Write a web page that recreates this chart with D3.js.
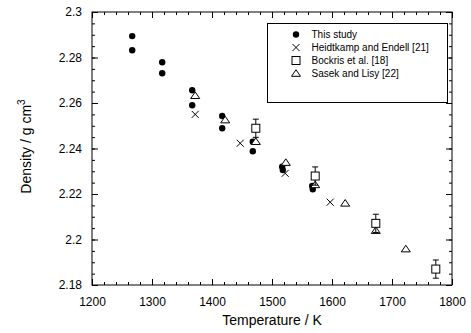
<!DOCTYPE html>
<html>
<head>
<meta charset="utf-8">
<script src="https://cdn.jsdelivr.net/npm/d3@7"></script>
<style>
  body { margin: 0; background: #fff; }
  svg { font-family: "Liberation Sans", Arial, sans-serif; }
</style>
</head>
<body>
<div id="chart"></div>
<script>
// values
const thisStudyT = [1267, 1267, 1317, 1317, 1367, 1367, 1417, 1417, 1468, 1468, 1517, 1518, 1567, 1568];
const thisStudyD = [2.2894, 2.2832, 2.2779, 2.2731, 2.2656, 2.2590, 2.2543, 2.2489, 2.2430, 2.2388, 2.2320, 2.2305, 2.2235, 2.2221];

const heidtkampT = [1372, 1447, 1522, 1597];
const heidtkampD = [2.2550, 2.2423, 2.2291, 2.2164];

const bockrisT = [1473, 1572, 1673, 1773];
const bockrisD = [2.2489, 2.2279, 2.2071, 2.1870];
const bockrisErr = [0.004, 0.004, 0.004, 0.004];

const sasekT = [1372, 1422, 1473, 1523, 1572, 1622, 1673, 1723];
const sasekD = [2.2632, 2.2525, 2.2430, 2.2338, 2.2240, 2.2159, 2.2039, 2.1958];

const legendLabels = ["This study", "Heidtkamp and Endell [21]", "Bockris et al. [18]", "Sasek and Lisy [22]"];
const xTicks = [1200, 1300, 1400, 1500, 1600, 1700, 1800];
const yTicks = [2.18, 2.2, 2.22, 2.24, 2.26, 2.28, 2.3];

const width = 471, height = 333;
const margin = { top: 12, right: 19, bottom: 48, left: 92 };
const iw = width - margin.left - margin.right;
const ih = height - margin.top - margin.bottom;

const x = d3.scaleLinear().domain([1200, 1800]).range([0, iw]);
const y = d3.scaleLinear().domain([2.18, 2.3]).range([ih, 0]);

const svg = d3.select('#chart').append('svg')
  .attr('width', width)
  .attr('height', height);

const g = svg.append('g').attr('transform', `translate(${margin.left},${margin.top})`);

const xMinor = d3.range(1200, 1801, 20);
const yMinor = d3.range(0, 25).map(i => 2.18 + i * 0.005);

function styleAxis(sel) {
  sel.select('.domain').remove();
  sel.selectAll('line').attr('stroke', '#000').attr('stroke-width', 1);
  sel.selectAll('text').attr('fill', '#000').style('font-size', '12px');
}

// bottom: labels + inward major ticks
g.append('g').attr('transform', `translate(0,${ih})`)
  .call(d3.axisBottom(x).tickValues(xTicks).tickSize(-6).tickPadding(12).tickFormat(d3.format('d')))
  .call(styleAxis);
g.append('g').attr('transform', `translate(0,${ih})`)
  .call(d3.axisBottom(x).tickValues(xMinor).tickSize(-3).tickFormat(''))
  .call(styleAxis);
// top
g.append('g')
  .call(d3.axisTop(x).tickValues(xTicks).tickSize(-6).tickFormat(''))
  .call(styleAxis);
g.append('g')
  .call(d3.axisTop(x).tickValues(xMinor).tickSize(-3).tickFormat(''))
  .call(styleAxis);
// left
g.append('g')
  .call(d3.axisLeft(y).tickValues(yTicks).tickSize(-6).tickPadding(10).tickFormat(d => d3.format('')(+d.toFixed(2))))
  .call(styleAxis);
g.append('g')
  .call(d3.axisLeft(y).tickValues(yMinor).tickSize(-3).tickFormat(''))
  .call(styleAxis);
// right
g.append('g').attr('transform', `translate(${iw},0)`)
  .call(d3.axisRight(y).tickValues(yTicks).tickSize(-6).tickFormat(''))
  .call(styleAxis);
g.append('g').attr('transform', `translate(${iw},0)`)
  .call(d3.axisRight(y).tickValues(yMinor).tickSize(-3).tickFormat(''))
  .call(styleAxis);

g.append('rect')
  .attr('width', iw).attr('height', ih)
  .attr('fill', 'none').attr('stroke', '#000').attr('stroke-width', 1);

// marker drawers
const drawCircle = (sel) => sel.append('circle').attr('r', 3.2).attr('fill', '#000');
const drawCross = (sel) => sel.append('path').attr('d', 'M-3.5,-3.5L3.5,3.5M-3.5,3.5L3.5,-3.5')
  .attr('stroke', '#000').attr('stroke-width', 1).attr('fill', 'none');
const drawSquare = (sel) => sel.append('rect').attr('x', -4).attr('y', -4).attr('width', 8).attr('height', 8)
  .attr('fill', '#fff').attr('stroke', '#000').attr('stroke-width', 1);
const drawTriangle = (sel) => sel.append('path').attr('d', 'M0,-3.8L4.5,2.8L-4.5,2.8Z')
  .attr('fill', '#fff').attr('stroke', '#000').attr('stroke-width', 1);

function plotSeries(T, D, drawer) {
  g.append('g').selectAll('g')
    .data(T.map((t, i) => ({ t, d: D[i] })))
    .join('g')
    .attr('transform', p => `translate(${x(p.t)},${y(p.d)})`)
    .each(function () { drawer(d3.select(this)); });
}

plotSeries(thisStudyT, thisStudyD, drawCircle);
plotSeries(sasekT, sasekD, drawTriangle);
plotSeries(heidtkampT, heidtkampD, drawCross);

// Bockris error bars then squares
const eb = g.append('g').attr('stroke', '#000').attr('stroke-width', 1);
bockrisT.forEach((t, i) => {
  const cx = x(t), y0 = y(bockrisD[i] - bockrisErr[i]), y1 = y(bockrisD[i] + bockrisErr[i]);
  eb.append('line').attr('x1', cx).attr('x2', cx).attr('y1', y0).attr('y2', y1);
  eb.append('line').attr('x1', cx - 3).attr('x2', cx + 3).attr('y1', y0).attr('y2', y0);
  eb.append('line').attr('x1', cx - 3).attr('x2', cx + 3).attr('y1', y1).attr('y2', y1);
});
plotSeries(bockrisT, bockrisD, drawSquare);

// legend
const legend = svg.append('g').attr('transform', 'translate(267.5,23.5)');
legend.append('rect').attr('width', 180).attr('height', 79)
  .attr('fill', '#fff').attr('stroke', '#000').attr('stroke-width', 1);
const drawers = [drawCircle, drawCross, drawSquare, drawTriangle];
legendLabels.forEach((label, i) => {
  const row = legend.append('g').attr('transform', `translate(0,${11 + i * 13})`);
  drawers[i](row.append('g').attr('transform', 'translate(28.5,0)'));
  row.append('text').attr('x', 44).attr('dy', '0.35em')
    .style('font-size', '10px').attr('fill', '#000').text(label);
});

// axis titles
svg.append('text')
  .attr('x', margin.left + iw / 2).attr('y', 325)
  .attr('text-anchor', 'middle').style('font-size', '14px').text('Temperature / K');

const yt = svg.append('text')
  .attr('transform', `translate(31,${margin.top + ih / 2 - 2}) rotate(-90)`)
  .attr('text-anchor', 'middle').style('font-size', '14px');
yt.append('tspan').text('Density / g cm');
yt.append('tspan').attr('dy', -6).style('font-size', '10px').text('3');
</script>
</body>
</html>
